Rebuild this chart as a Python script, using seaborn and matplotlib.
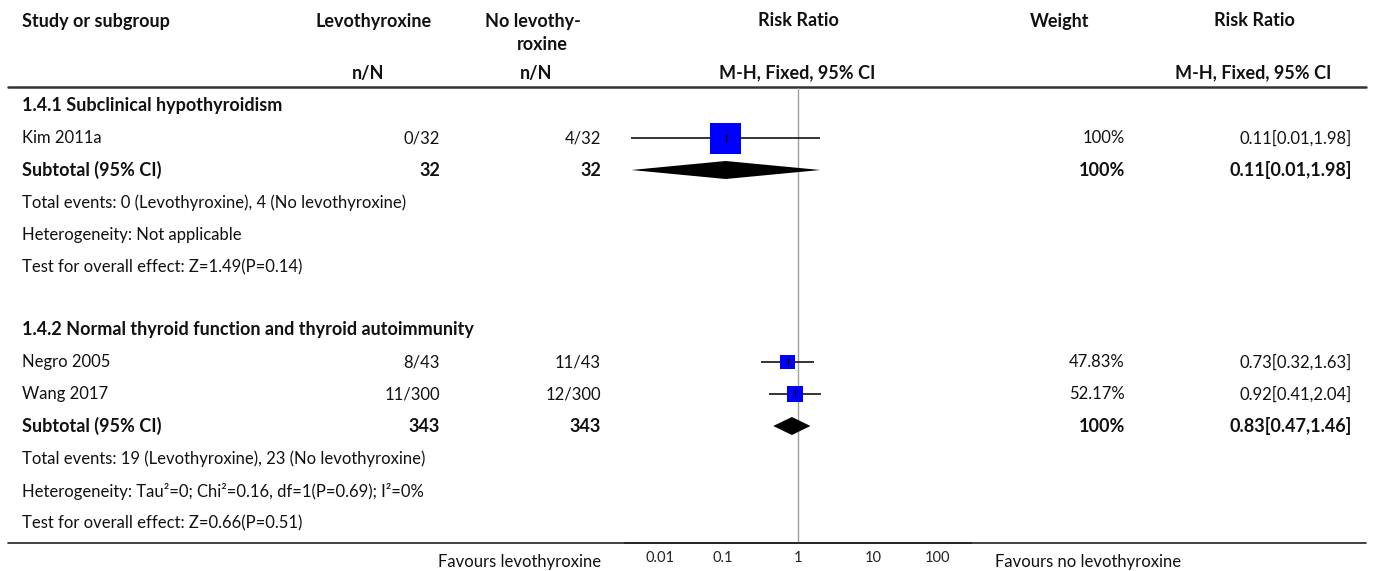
import numpy as np
import pandas as pd
import seaborn as sns
import matplotlib.pyplot as plt
from matplotlib.transforms import ScaledTranslation

# datos del forest plot
studies = ['Kim 2011a', 'Negro 2005', 'Wang 2017']
subgroup = ['1.4.1', '1.4.2', '1.4.2']
ev_levo = ['0/32', '8/43', '11/300']
ev_nolevo = ['4/32', '11/43', '12/300']
weights = [1.0, 0.4783, 0.5217]
weight_txt = ['100%', '47.83%', '52.17%']
rr = [0.11, 0.73, 0.92]
rr_lo = [0.0062, 0.32, 0.41]
rr_hi = [1.98, 1.63, 2.04]
ci_txt = ['0.11[0.01,1.98]', '0.73[0.32,1.63]', '0.92[0.41,2.04]']

sub_names = ['1.4.1 Subclinical hypothyroidism',
             '1.4.2 Normal thyroid function and thyroid autoimmunity']
sub_n_levo = ['32', '343']
sub_n_nolevo = ['32', '343']
sub_rr = [0.11, 0.83]
sub_lo = [0.0062, 0.47]
sub_hi = [1.98, 1.46]
sub_ci_txt = ['0.11[0.01,1.98]', '0.83[0.47,1.46]']
sub_notes = [
    ['Total events: 0 (Levothyroxine), 4 (No levothyroxine)',
     'Heterogeneity: Not applicable',
     'Test for overall effect: Z=1.49(P=0.14)'],
    ['Total events: 19 (Levothyroxine), 23 (No levothyroxine)',
     'Heterogeneity: Tau\u00b2=0; Chi\u00b2=0.16, df=1(P=0.69); I\u00b2=0%',
     'Test for overall effect: Z=0.66(P=0.51)'],
]
tick_vals = [0.01, 0.1, 1, 10, 100]
tick_labels = ['0.01', '0.1', '1', '10', '100']

sns.set_style('white')
plt.rcParams['font.family'] = ['Lato', 'DejaVu Sans']
FS = 12
FSB = 13

W, H = 1373, 571
fig = plt.figure(figsize=(W / 100, H / 100), dpi=100)

# eje de texto en pixeles
tx = fig.add_axes([0, 0, 1, 1])
tx.set_xlim(0, W)
tx.set_ylim(H, 0)
tx.axis('off')

# eje del forest plot (escala log)
x0, x1, y0, y1 = 625, 971, 88, 543
ax = fig.add_axes([x0 / W, (H - y1) / H, (x1 - x0) / W, (y1 - y0) / H])
half = (x1 - x0) / 2 / 75.5
ax.set_xscale('log')
ax.set_xlim(10 ** -half, 10 ** half)
ax.set_ylim(y1, y0)
ax.patch.set_alpha(0)
for s in ['top', 'left', 'right']:
    ax.spines[s].set_visible(False)
ax.spines['bottom'].set_color('#222222')
ax.spines['bottom'].set_linewidth(1.2)
ax.set_yticks([])
ax.set_xticks(tick_vals)
ax.set_xticklabels(tick_labels, fontsize=10.5, color='#222222')
ax.minorticks_off()
ax.tick_params(axis='x', direction='in', length=5, width=0.9, pad=6,
               color='#222222')
for lbl, dx in zip(ax.get_xticklabels(), [13, 0, 0, 0, -11]):
    lbl.set_transform(lbl.get_transform() +
                      ScaledTranslation(dx / 100, 0, fig.dpi_scale_trans))
ax.axvline(1, color='#a0a0a0', lw=1.0, zorder=0)

# cabecera
bold = dict(fontsize=FSB, fontweight='bold', va='center', color='#111111')
tx.text(22, 21, 'Study or subgroup', ha='left', **bold)
tx.text(374, 21, 'Levothyroxine', ha='center', **bold)
tx.text(533, 21, 'No levothy-', ha='center', **bold)
tx.text(542, 44, 'roxine', ha='center', **bold)
tx.text(368, 73, 'n/N', ha='center', **bold)
tx.text(536, 73, 'n/N', ha='center', **bold)
tx.text(798, 21, 'Risk Ratio', ha='center', **bold)
tx.text(797, 73, 'M-H, Fixed, 95% CI', ha='center', **bold)
tx.text(1060, 21, 'Weight', ha='center', **bold)
tx.text(1254, 21, 'Risk Ratio', ha='center', **bold)
tx.text(1253, 73, 'M-H, Fixed, 95% CI', ha='center', **bold)
tx.plot([8, 1366], [87, 87], color='#333333', lw=1.8)
tx.plot([8, 1366], [543, 543], color='#222222', lw=1.2)

norm = dict(fontsize=FS, va='center', color='#111111')
sub_rows = [106, 330]
rows = []
sub_y = []
for g, name in enumerate(sub_names):
    y = sub_rows[g]
    tx.text(22, y, name, ha='left', **bold)
    idx = [i for i, s in enumerate(subgroup) if s == name[:5]]
    for i in idx:
        y += 32
        rows.append(y)
        tx.text(22, y, studies[i], ha='left', **norm)
        tx.text(440, y, ev_levo[i], ha='right', **norm)
        tx.text(601, y, ev_nolevo[i], ha='right', **norm)
        tx.text(1125, y, weight_txt[i], ha='right', **norm)
        tx.text(1352, y, ci_txt[i], ha='right', **norm)
    y += 32
    sub_y.append(y)
    tx.text(22, y, 'Subtotal (95% CI)', ha='left', **bold)
    tx.text(440, y, sub_n_levo[g], ha='right', **bold)
    tx.text(601, y, sub_n_nolevo[g], ha='right', **bold)
    tx.text(1125, y, '100%', ha='right', **bold)
    tx.text(1352, y, sub_ci_txt[g], ha='right', **bold)
    for note in sub_notes[g]:
        y += 32.5
        tx.text(22, y, note, ha='left', **norm)

tx.text(601, 562, 'Favours levothyroxine', ha='right', **norm)
tx.text(995, 562, 'Favours no levothyroxine', ha='left', **norm)

# estudios: IC y cajas
df = pd.DataFrame({'rr': rr, 'lo': rr_lo, 'hi': rr_hi, 'y': rows,
                   'w2': np.array(weights) ** 2})
ax.hlines(df['y'], df['lo'], df['hi'], color='black', lw=1.1, zorder=2)
side_pt = 31 * 0.72
sns.scatterplot(data=df, x='rr', y='y', size='w2', sizes=(0, side_pt ** 2),
                size_norm=(0, 1), marker='s', color='#0000ff', linewidth=0,
                legend=False, ax=ax, zorder=3)
ax.scatter(df['rr'], df['y'], marker='|', s=(8 * 0.72) ** 2, color='black',
           linewidths=1, zorder=4)

# diamantes de subtotales
for est, lo, hi, y in zip(sub_rr, sub_lo, sub_hi, sub_y):
    ax.fill([lo, est, hi, est], [y, y - 9, y, y + 9], color='black', lw=0,
            zorder=3)

ax.set_xlabel('')
ax.set_ylabel('')
plt.savefig('out.png', dpi=100)
